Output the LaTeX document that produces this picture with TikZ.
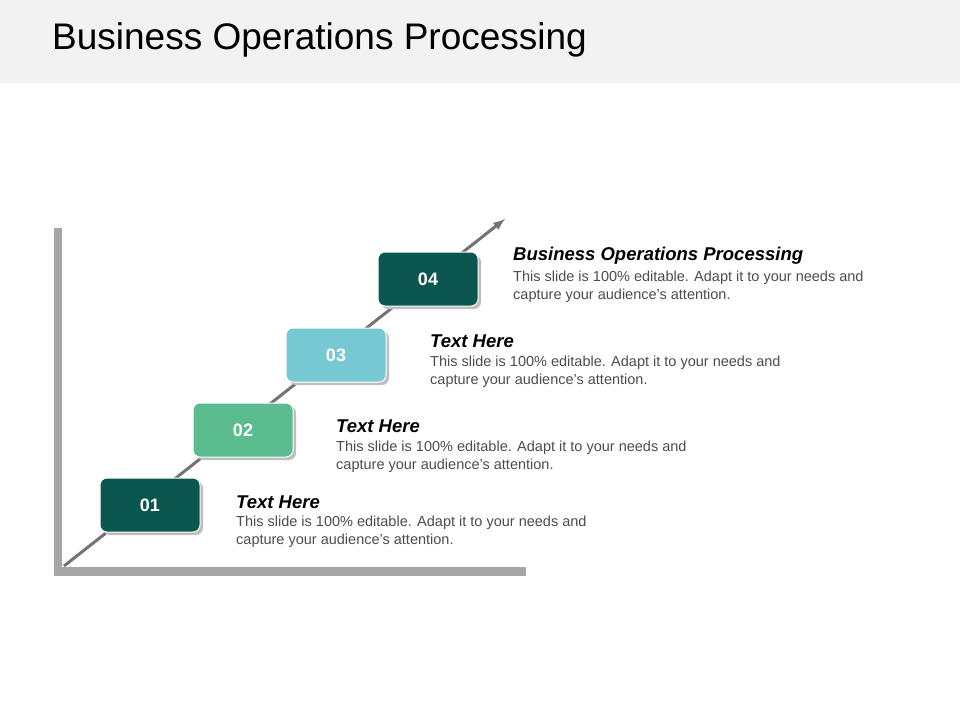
\documentclass[tikz,border=0pt]{standalone}
\usepackage{fontspec}
\setmainfont{Liberation Sans}
\begin{document}
\begin{tikzpicture}[x=1pt,y=-1pt,
  numbox/.style={rounded corners=7pt,minimum width=100pt,minimum height=54pt,text=white,font=\fontsize{18}{20}\selectfont\bfseries,draw=white,line width=1pt},
  head/.style={anchor=west,inner sep=0pt,font=\fontsize{18.5}{20}\selectfont\bfseries\itshape},
  body/.style={anchor=north west,inner sep=0pt,align=left,text=black!70,font=\fontsize{14.5}{17.5}\selectfont}]
\definecolor{dteal}{HTML}{0B5750}
\definecolor{mgreen}{HTML}{5BBD8F}
\definecolor{lblue}{HTML}{76C9D3}
\useasboundingbox (0,0) rectangle (960,720);
\fill[black!5] (0,0) rectangle (960,83);
\node[anchor=west,inner sep=0pt,font=\fontsize{37}{40}\selectfont] (title) at (52,40) {Business Operations Processing};
\fill[black!35] (54,228) rectangle (62,576);
\fill[black!35] (54,567) rectangle (526,576);
\coordinate (s) at (64,566);
\coordinate (e) at (505,219);
\draw[black!55,line width=3pt,-latex] (s) -- (e);
\foreach \n/\x/\y/\c in {01/150/505/dteal,02/243/430/mgreen,03/336/355/lblue,04/428/279/dteal}{
  \fill[black!25,rounded corners=7pt] (\x-47,\y-24) rectangle (\x+53,\y+30);
  \node[numbox,fill=\c] (b\n) at (\x,\y) {\n};
}
\node[head] (h1) at (236,502) {Text Here};
\node[body] (t1) at (236,516) {This slide is 100\% editable. Adapt it to your needs and\\capture your audience's attention.};
\node[head] (h2) at (336,426) {Text Here};
\node[body] (t2) at (336,441) {This slide is 100\% editable. Adapt it to your needs and\\capture your audience's attention.};
\node[head] (h3) at (430,341) {Text Here};
\node[body] (t3) at (430,356) {This slide is 100\% editable. Adapt it to your needs and\\capture your audience's attention.};
\node[head] (h4) at (513,256) {Business Operations Processing};
\node[body] (t4) at (513,271) {This slide is 100\% editable. Adapt it to your needs and\\capture your audience's attention.};
\end{tikzpicture}
\end{document}
